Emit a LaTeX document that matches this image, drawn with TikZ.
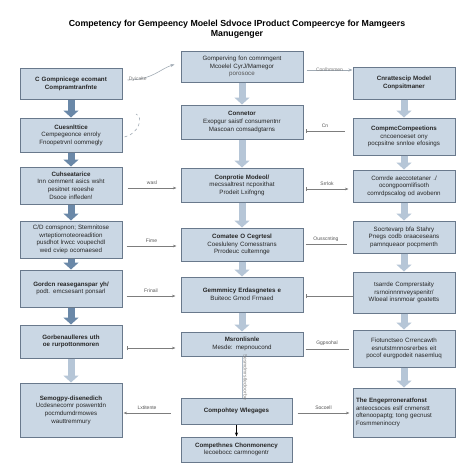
\documentclass[tikz,border=0pt]{standalone}
\usepackage{fontspec}
\setmainfont{Liberation Sans}
\usepackage{xcolor}
\usetikzlibrary{arrows.meta}
\usetikzlibrary{positioning}
\definecolor{boxfill}{RGB}{202,215,228}
\definecolor{boxline}{RGB}{105,121,140}
\definecolor{darkarrow}{RGB}{106,136,168}
\definecolor{lightarrow}{RGB}{182,198,215}
\definecolor{linkgray}{RGB}{125,125,125}
\definecolor{labelgray}{RGB}{85,85,85}
\tikzstyle{box} = [rectangle, draw=boxline, fill=boxfill, line width=1pt, align=center, inner sep=2pt, text=black!85, font=\fontsize{6.2}{7.6}\selectfont]
\tikzstyle{sidebox} = [box, minimum width=102pt, text width=96pt]
\tikzstyle{midbox} = [box, minimum width=122pt, text width=116pt]
\tikzstyle{darkdown} = [line width=7pt, -{Triangle[length=7pt,width=15pt]}, darkarrow]
\tikzstyle{lightdown} = [line width=7pt, -{Triangle[length=7pt,width=15pt]}, lightarrow]
\tikzstyle{link} = [line width=0.6pt, linkgray]
\tikzstyle{tag} = [font=\fontsize{5}{6}\selectfont, text=labelgray, inner sep=1pt]

\begin{document}
\begin{tikzpicture}[x=1pt, y=-1pt]
    \fill[white] (0,0) rectangle (474,474);
    \useasboundingbox (0,0) rectangle (474,474);
    \node (title) [font=\bfseries\fontsize{8.8}{10}\selectfont, align=center] at (237,29) {Competency for Gempeency Moelel Sdvoce IProduct Compeercye for Mamgeers\\Manugenger};
    % left column
    \node (L1) [sidebox, minimum height=31pt] at (71,84) {\textbf{C Gompnicege ecomant}\\\textbf{Compramtranfnte}};
    \node (L2) [sidebox, minimum height=34pt] at (71,135) {\textbf{Cuesnlttice}\\Cempegeonce enroly\\Fnoopetrvnl oommegly};
    \node (L3) [sidebox, minimum height=37pt] at (71,185.5) {\textbf{Cuhseatarice}\\Inn cemment asics wsht\\pesitnet reoeshe\\Dsoce inffeden!};
    \node (L4) [sidebox, minimum height=37pt] at (71,239.5) {C/D comspnon; Stemnitose\\wrteptiornoteoreadition\\pusdhot lrwcc voupechdl\\wed cviep ocomaesed};
    \node (L5) [sidebox, minimum height=37pt] at (71,288.5) {\textbf{Gordcn reaseganspar yh/}\\podt. emcsesant ponsarl};
    \node (L6) [sidebox, minimum height=33pt] at (71,341.5) {\textbf{Gorbenaulleres uth}\\\textbf{oe rurpottonmoren}};
    \node (L7) [sidebox, minimum height=54pt] at (71,410) {\textbf{Semogpy-disenedich}\\Ucdesnecomr poswentdn\\pocmdumdrmowes\\wauttremmury};
    % middle column
    \node (C1) [midbox, minimum height=31pt] at (242,66.5) {Gomperving fon comnmgent\\Mcoelel CyrJ/Mamegor\\{\color{labelgray}porosoce}};
    \node (C2) [midbox, minimum height=34pt] at (242,122) {\textbf{Connetor}\\Exopgur saistf consumentnr\\Mascoan comsadgtarns};
    \node (C3) [midbox, minimum height=34pt] at (242,185) {\textbf{Conprotie Modeol/}\\mecssaltrest ncpoxithat\\Prodeit Lxifngng};
    \node (C4) [midbox, minimum height=33pt] at (242,244.5) {\textbf{Comatee O Cegrtesl}\\Coesluleny Comesstrans\\Prrodeuc cultemnge};
    \node (C5) [midbox, minimum height=35pt] at (242,294.5) {\textbf{Gemmmicy Erdasgnetes e}\\Buiteoc Gmod Frmaed};
    \node (C6) [midbox, minimum height=24pt] at (242,344) {\textbf{Msronlisnle}\\Mesde: mepnoucond};
    \node (C7) [box, minimum width=111pt, text width=105pt, minimum height=26pt] at (236.5,411) {\textbf{Compohtey Wlegages}};
    \node (C8) [box, minimum width=111pt, text width=105pt, minimum height=25pt] at (236.5,449.5) {\textbf{Compethnes Chonmonency}\\lecoebocc carmnogentr};
    % right column
    \node (R1) [sidebox, minimum height=32pt] at (404,83) {\textbf{Cnrattescip Model}\\\textbf{Conpsitmaner}};
    \node (R2) [sidebox, minimum height=37pt] at (404,136.5) {\textbf{CompmcCompeetions}\\cncoenoeset ony\\pocpsitne snnloe efosings};
    \node (R3) [sidebox, minimum height=32pt] at (404,186) {Comrde aeccotetaner ./\\ocongpoomlifisoth\\comrdpscalog od avobenn};
    \node (R4) [sidebox, minimum height=32pt] at (404,237) {Socrtevarp bfa Stahry\\Pnegs codb oraaceseans\\pamnqueaor pocpmenth};
    \node (R5) [sidebox, minimum height=41pt] at (404,292.5) {tsarrde Comprerstaity\\rsrnoinnnnveyspenitr/\\Wloeal insnmoar goatetts};
    \node (R6) [sidebox, minimum height=37pt] at (404,348.5) {Fiotunctseo Crrencawth\\esnutstmnnosrerbes eit\\pocof eurgpodeit nasemluq};
    \node (R7) [sidebox, minimum height=49pt, align=left] at (404,412.5) {\textbf{The Engeprroneratfonst}\\anteocsoces eslf cnmenstt\\oftenoopaptg; tong gecnust\\Fosmmeninocry};
    % block arrows
    \draw [darkdown] (L1) -- (L2);
    \draw [darkdown] (L2) -- (L3);
    \draw [darkdown] (L3) -- (L4);
    \draw [darkdown] (L4) -- (L5);
    \draw [darkdown] (L5) -- (L6);
    \draw [lightdown] (L6) -- (L7);
    \draw [lightdown] (C1) -- (C2);
    \draw [lightdown] (C2) -- (C3);
    \draw [lightdown] (C3) -- (C4);
    \draw [lightdown] (C4) -- (C5);
    \draw [lightdown] (C5) -- (C6);
    \draw [lightdown] (R1) -- (R2);
    \draw [lightdown] (R2) -- (R3);
    \draw [lightdown] (R3) -- (R4);
    \draw [lightdown] (R4) -- (R5);
    \draw [lightdown] (R5) -- (R6);
    \draw [lightdown] (R6) -- (R7);
    \draw [link, lightarrow!80!gray, line width=1pt] (C6.south) -- node [tag, sloped, above, text=gray] {Sesmdmrstlecloorbe} (C6.south |- C7.north);
    \draw [black, line width=0.6pt, -{Stealth[length=4pt]}] (C7) -- (C8);
    % side links
    \draw [link, lightarrow!60!gray, -{Stealth[length=4pt]}] ([xshift=5pt,yshift=4pt]L1.east) .. controls +(25,0) and +(-14,4) .. ([xshift=-6pt,yshift=2pt]C1.west) node [tag, pos=0.15, text=gray] {Dyicalte};
    \draw [link, lightarrow!60!gray, -{Stealth[length=4pt]}] ([xshift=3pt,yshift=-3.5pt]C1.east) -- ([yshift=-3.5pt]C1.east -| R1.west) node [tag, midway, text=gray] {Conlhmmen};
    \coordinate (arcend) at (136,114);
    \draw [link, lightarrow!60!gray, dashed] ([xshift=2pt,yshift=-2pt]L2.east) .. controls +(14,-3) and +(8,3) .. (arcend);
    \draw [link, {Bar[width=4pt]}-] ([xshift=2pt,yshift=-9pt]C2.east) -- ([xshift=-8pt,yshift=-9pt]C2.east -| R2.west) node [tag, midway, above=2pt] {Cn};
    \draw [link, -{Stealth[length=3.5pt]}] ([xshift=5pt,yshift=-2.5pt]L3.east) -- ([xshift=-4pt,yshift=-2.5pt]L3.east -| C3.west) node [tag, midway, above=2pt] {wasl};
    \draw [link, {Bar[width=4pt]}-{Stealth[length=3.5pt]}] ([xshift=2pt,yshift=-4pt]C3.east) -- ([xshift=-4pt,yshift=-4pt]C3.east -| R3.west) node [tag, midway, above=2pt] {Srrlok};
    \draw [link, -{Stealth[length=3.5pt]}] ([xshift=4pt,yshift=-6.5pt]L4.east) -- ([xshift=-4pt,yshift=-6.5pt]L4.east -| C4.west) node [tag, midway, above=2pt] {Fime};
    \draw [link] ([xshift=2pt]C4.east) -- ([xshift=-6pt]C4.east -| R4.west) node [tag, midway, above=2pt] {Ousscnting};
    \draw [link, -{Stealth[length=3.5pt]}] ([xshift=4pt,yshift=-7.5pt]L5.east) -- ([xshift=-5pt,yshift=-7.5pt]L5.east -| C5.west) node [tag, midway, above=2pt] {Frinail};
    \draw [link, {Bar[width=4pt]}-] ([xshift=2pt,yshift=-1.5pt]C5.east) -- ([yshift=-1.5pt]C5.east -| R5.west);
    \draw [link, {Bar[width=4pt]}-{Stealth[length=3.5pt]}] ([xshift=4pt,yshift=-6.5pt]L6.east) -- ([xshift=-5pt,yshift=-6.5pt]L6.east -| C6.west);
    \draw [link] ([xshift=2pt,yshift=-5pt]C6.east) -- ([xshift=-4pt,yshift=-5pt]C6.east -| R6.west) node [tag, midway, above=2pt] {Ggpsohal};
    \draw [link, -{Stealth[length=3.5pt]}] ([xshift=-10pt,yshift=-2pt]C7.west) -- ([xshift=1pt,yshift=-2pt]C7.west -| L7.east) node [tag, midway, above=2pt] {Lxtitente};
    \draw [link, -{Stealth[length=3.5pt]}] ([xshift=5pt,yshift=-2pt]C7.east) -- ([xshift=-3pt,yshift=-2pt]C7.east -| R7.west) node [tag, midway, above=2pt] {Socoell};
\end{tikzpicture}
\end{document}
